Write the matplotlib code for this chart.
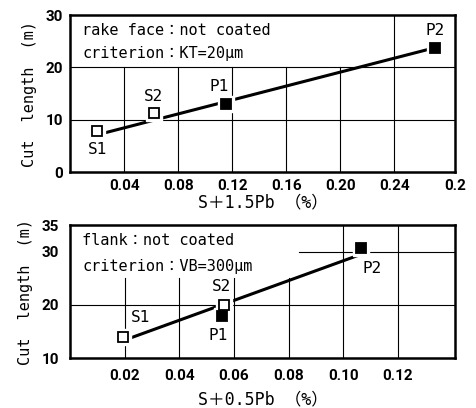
import numpy as np
import matplotlib.pyplot as plt

plt.rcParams['font.family'] = ['DejaVu Sans Mono', 'Noto Sans CJK JP']

# --- upper panel: rake face ---
top_names = ["S1", "S2", "P1", "P2"]
top_x = [0.020, 0.062, 0.1155, 0.270]
top_y = [7.8, 11.3, 13.0, 23.7]
top_filled = [False, False, True, True]
top_fit_x = [0.027, 0.266]
top_fit_y = [7.6, 23.5]
top_xticks = [0.04, 0.08, 0.12, 0.16, 0.20, 0.24, 0.285]
top_xticklabels = ["0.04", "0.08", "0.12", "0.16", "0.20", "0.24", "0.2"]
top_yticks = [0, 10, 20, 30]

# --- lower panel: flank ---
bot_names = ["S1", "S2", "P1", "P2"]
bot_x = [0.0195, 0.0565, 0.0558, 0.1064]
bot_y = [13.9, 20.0, 17.9, 30.7]
bot_filled = [False, False, True, True]
bot_fit_x = [0.0228, 0.105]
bot_fit_y = [13.9, 29.2]
bot_xticks = [0.02, 0.04, 0.06, 0.08, 0.10, 0.12]
bot_xticklabels = ["0.02", "0.04", "0.06", "0.08", "0.10", "0.12"]
bot_yticks = [10, 20, 30, 35]

fig = plt.figure(figsize=(4.77, 4.08), dpi=100)
ax1 = fig.add_axes([0.147, 0.578, 0.807, 0.385])
ax2 = fig.add_axes([0.147, 0.1225, 0.807, 0.326])


def draw_points(ax, xs, ys, filled, names, offsets):
    ax.plot(xs, ys, ls="none", marker="s", ms=11, mfc="white", mec="white", zorder=4)
    for x, y, f, n, off in zip(xs, ys, filled, names, offsets):
        ax.plot(x, y, marker="s", ms=7, mfc="black" if f else "white",
                mec="black", mew=1.3, zorder=5)
        ax.annotate(n, (x, y), xytext=off, textcoords="offset points",
                    ha="center", va="center", fontsize=11.5, zorder=6)


def style(ax, pad):
    for s in ax.spines.values():
        s.set_linewidth(1.8)
    ax.tick_params(length=0, labelsize=11, pad=pad)
    for lab in ax.get_xticklabels() + ax.get_yticklabels():
        lab.set_fontfamily("Roboto")
        lab.set_fontweight("bold")
    ax.set_ylabel("Cut  length  (m)", fontsize=11, labelpad=6)


# upper
ax1.set_xlim(0, 0.285)
ax1.set_ylim(0, 30)
for xv in top_xticks[:5]:
    ax1.axvline(xv, ymax=20 / 30, color="black", lw=0.8, zorder=1)
ax1.axvline(top_xticks[5], color="black", lw=0.8, zorder=1)
for yv in [10, 20]:
    ax1.axhline(yv, color="black", lw=0.8, zorder=1)
ax1.plot(top_fit_x, top_fit_y, color="black", lw=2.2, zorder=3)
draw_points(ax1, top_x, top_y, top_filled, top_names,
            [(0, -13), (0, 12), (-5, 13), (0, 13)])
ax1.set_xticks(top_xticks, top_xticklabels)
ax1.set_yticks(top_yticks)
ax1.text(0.031, 0.905, "rake face：not coated", transform=ax1.transAxes,
         fontsize=11, va="center")
ax1.text(0.031, 0.755, "criterion：KT=20μm", transform=ax1.transAxes,
         fontsize=11, va="center")
ax1.set_xlabel("S＋1.5Pb （%）", fontsize=12, labelpad=0)
style(ax1, 5)

# lower
ax2.set_xlim(0, 0.141)
ax2.set_ylim(10, 35)
for xv in bot_xticks[:4]:
    ax2.axvline(xv, ymax=0.6, color="black", lw=0.8, zorder=1)
for xv in bot_xticks[4:]:
    ax2.axvline(xv, color="black", lw=0.8, zorder=1)
ax2.axhline(20, color="black", lw=0.8, zorder=1)
ax2.axhline(30, xmin=0.595, color="black", lw=0.8, zorder=1)
ax2.plot(bot_fit_x, bot_fit_y, color="black", lw=2.2, zorder=3)
draw_points(ax2, bot_x, bot_y, bot_filled, bot_names,
            [(12, 14), (-2, 13), (-3, -14), (8, -15)])
ax2.set_xticks(bot_xticks, bot_xticklabels)
ax2.set_yticks(bot_yticks)
ax2.text(0.031, 0.88, "flank：not coated", transform=ax2.transAxes,
         fontsize=11, va="center")
ax2.text(0.031, 0.69, "criterion：VB=300μm", transform=ax2.transAxes,
         fontsize=11, va="center")
ax2.set_xlabel("S＋0.5Pb （%）", fontsize=12, labelpad=5)
style(ax2, 8)

fig.savefig("out.png", dpi=100)
